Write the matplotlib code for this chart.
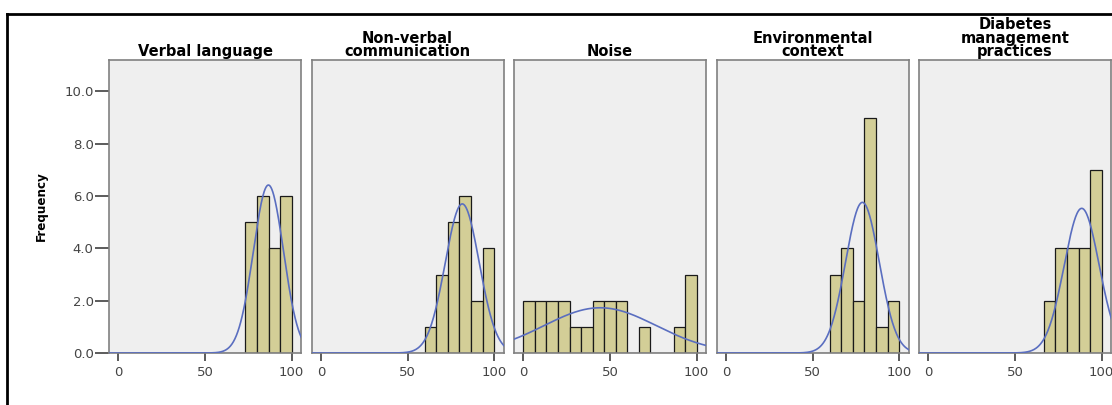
import numpy as np
import matplotlib
matplotlib.use("Agg")
import matplotlib.pyplot as plt
from matplotlib.lines import Line2D

# ---- data ----
titles = ["Verbal language", "Non-verbal\ncommunication", "Noise",
          "Environmental\ncontext", "Diabetes\nmanagement\npractices"]
bin_edges = np.linspace(0, 100, 16)  # 15 bins of width 6.67
counts_verbal = [0, 0, 0, 0, 0, 0, 0, 0, 0, 0, 0, 5, 6, 4, 6]
counts_nonverbal = [0, 0, 0, 0, 0, 0, 0, 0, 0, 1, 3, 5, 6, 2, 4]
counts_noise = [2, 2, 2, 2, 1, 1, 2, 2, 2, 0, 1, 0, 0, 1, 3]
counts_env = [0, 0, 0, 0, 0, 0, 0, 0, 0, 3, 4, 2, 9, 1, 2]
counts_diab = [0, 0, 0, 0, 0, 0, 0, 0, 0, 0, 2, 4, 4, 4, 7]
all_counts = [counts_verbal, counts_nonverbal, counts_noise, counts_env, counts_diab]
means = [86.6, 81.6, 44.3, 78.8, 88.5]
sds = [8.7, 9.8, 32.3, 9.7, 10.1]
yticks = [0, 2, 4, 6, 8, 10]
ytick_labels = ["0.0", "2.0", "4.0", "6.0", "8.0", "10.0"]
xticks = [0, 50, 100]

# ---- style ----
W, H = 1112, 405
fig = plt.figure(figsize=(W / 100, H / 100), dpi=100)
bar_color = "#D3CE97"
curve_color = "#5A6EC0"
panel_bg = "#EFEFEF"
frame_color = "#808080"
text_color = "#444444"

lefts = [109, 311.5, 514, 716.5, 919]
pw = 192
top_px, bot_px = 60, 353

for i, (title, counts) in enumerate(zip(titles, all_counts)):
    ax = fig.add_axes([lefts[i] / W, 1 - bot_px / H, pw / W, (bot_px - top_px) / H])
    ax.set_facecolor(panel_bg)
    widths = np.diff(bin_edges)
    ax.bar(bin_edges[:-1], counts, width=widths, align="edge",
           color=bar_color, edgecolor="#1A1A1A", linewidth=0.9, zorder=2)
    xs = np.linspace(-6, 106, 400)
    n = sum(counts)
    bw = widths[0]
    ys = n * bw / (sds[i] * np.sqrt(2 * np.pi)) * np.exp(-(xs - means[i]) ** 2 / (2 * sds[i] ** 2))
    ax.plot(xs, ys, color=curve_color, lw=1.2, zorder=3)
    ax.set_xlim(-5.4, 105.4)
    ax.set_ylim(0, 11.2)
    for s in ax.spines.values():
        s.set_color(frame_color)
        s.set_linewidth(1.2)
    ax.set_xticks(xticks)
    ax.set_xticklabels([str(t) for t in xticks], fontsize=9.5, color=text_color,
                       family="DejaVu Sans")
    ax.tick_params(axis="x", direction="out", length=6, width=1.2, color="#404040", pad=3)
    if i == 0:
        ax.set_yticks(yticks)
        ax.set_yticklabels(ytick_labels, fontsize=9.5, color=text_color, family="DejaVu Sans")
        ax.tick_params(axis="y", direction="out", length=10, width=1.2, color="#404040", pad=1)
        ax.set_ylabel("Frequency", fontsize=9.5, fontweight="bold", fontstretch="condensed",
                      family=["DejaVu Sans"], labelpad=12)
    else:
        ax.set_yticks([])
    ax.set_title(title, fontsize=10.5, fontweight="bold", family="DejaVu Sans",
                 pad=3, linespacing=0.85)

# figure frame lines
fig.add_artist(Line2D([7 / W, 7 / W], [0, 1 - 14 / H], color="black", lw=2,
                      transform=fig.transFigure))
fig.add_artist(Line2D([7 / W, 1], [1 - 14 / H, 1 - 14 / H], color="black", lw=2,
                      transform=fig.transFigure))

fig.savefig("out.png", dpi=100)
